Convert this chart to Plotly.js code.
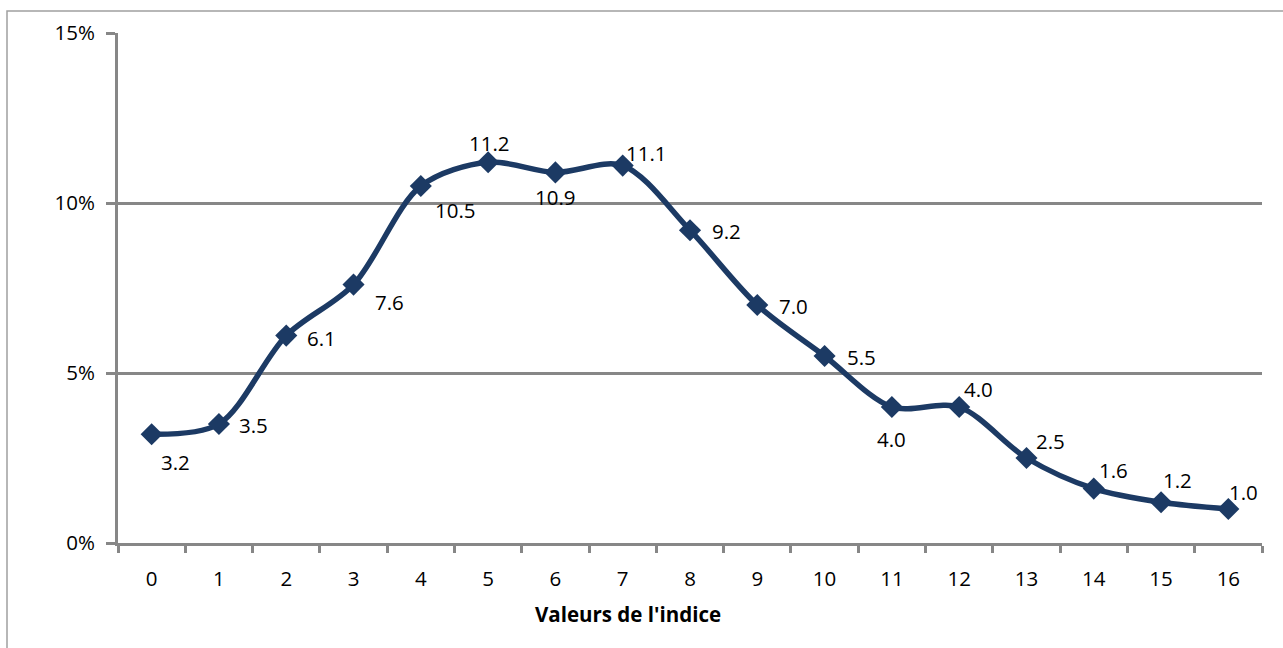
<!DOCTYPE html>
<html>
<head>
<meta charset="utf-8">
<script src="https://cdn.plot.ly/plotly-3.0.1.min.js"></script>
<style>html,body{margin:0;padding:0;background:#fff;}#chart{width:1283px;height:648px;}</style>
</head>
<body>
<div id="chart"></div>
<script>
// Data
const categories = ['0','1','2','3','4','5','6','7','8','9','10','11','12','13','14','15','16'];
const values = [3.2, 3.5, 6.1, 7.6, 10.5, 11.2, 10.9, 11.1, 9.2, 7.0, 5.5, 4.0, 4.0, 2.5, 1.6, 1.2, 1.0];
const yTickVals = [0, 5, 10, 15];
const yTickText = ['0%', '5%', '10%', '15%'];
const xTitle = "Valeurs de l'indice";

// label offsets (pixels) per point: [dx, dy]
const labelOffsets = [
  [24, 28], [35, 1], [35, 2], [36, 17], [35, 24], [1, -19], [0, 25], [24, -13],
  [36, 1], [36, 1], [37, 1], [0, 32], [19, -18], [24, -17], [20, -19], [16, -22], [15, -17]
];

const FONT = '"Open Sans", Lato, sans-serif';
const LINE = '#1c3a64';
const GRID = '#878787';

const annotations = values.map((v, i) => ({
  x: categories[i], y: v, xref: 'x', yref: 'y',
  text: v.toFixed(1), showarrow: false,
  xshift: labelOffsets[i][0], yshift: -labelOffsets[i][1],
  font: {family: FONT, size: 20.5, color: '#000'}
}));
annotations.push({
  x: 0.4458, y: -0.139, xref: 'paper', yref: 'paper', xanchor: 'center', yanchor: 'middle',
  text: '<b>' + xTitle + '</b>', showarrow: false,
  font: {family: FONT, size: 20.5, color: '#000'}
});

const trace = {
  x: categories, y: values, type: 'scatter', mode: 'lines+markers',
  line: {color: LINE, width: 5.5, shape: 'spline', smoothing: 0.9},
  marker: {symbol: 'diamond', size: 17, color: LINE},
  hoverinfo: 'none'
};

const layout = {
  width: 1283, height: 648,
  margin: {l: 118, r: 21, t: 33, b: 105},
  paper_bgcolor: '#fff', plot_bgcolor: '#fff',
  showlegend: false,
  xaxis: {
    type: 'category', tickson: 'boundaries',
    showline: true, linecolor: GRID, linewidth: 3,
    ticks: 'outside', ticklen: 7, tickwidth: 3, tickcolor: GRID,
    showgrid: false, zeroline: false,
    ticklabelstandoff: 15,
    tickfont: {family: FONT, size: 20.5, color: '#000'},
    range: [-0.5, 16.5]
  },
  yaxis: {
    range: [0, 15], tickvals: yTickVals, ticktext: yTickText,
    showline: true, linecolor: GRID, linewidth: 3,
    ticks: 'outside', ticklen: 9, tickwidth: 3, tickcolor: GRID,
    showgrid: true, gridcolor: GRID, gridwidth: 3, zeroline: false,
    ticklabelstandoff: 7,
    tickfont: {family: FONT, size: 20.5, color: '#000'}
  },
  shapes: [{
    type: 'rect', xref: 'paper', yref: 'paper',
    x0: (7 - 118) / 1144, x1: (1300 - 118) / 1144,
    y0: (543 - 670) / 510, y1: (543 - 11) / 510,
    line: {color: '#a0a0a0', width: 1.5}, fillcolor: 'rgba(0,0,0,0)', layer: 'below'
  }],
  annotations: annotations
};

Plotly.newPlot('chart', [trace], layout, {displayModeBar: false, staticPlot: true});
</script>
</body>
</html>
